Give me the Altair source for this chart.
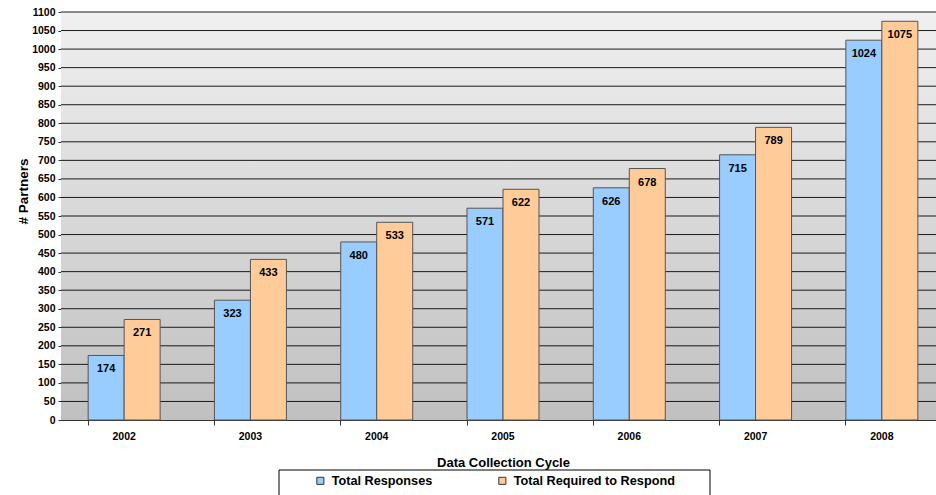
import altair as alt
import pandas as pd

years = ["2002", "2003", "2004", "2005", "2006", "2007", "2008"]
responses = [174, 323, 480, 571, 626, 715, 1024]
required = [271, 433, 533, 622, 678, 789, 1075]
series = ["Total Responses", "Total Required to Respond"]
colors = ["#99ccff", "#ffcc99"]
y_ticks = list(range(0, 1101, 50))

rows = []
for i, y in enumerate(years):
    rows.append({"Year": y, "Series": series[0], "Value": responses[i]})
    rows.append({"Year": y, "Series": series[1], "Value": required[i]})
df = pd.DataFrame(rows)
grid_df = pd.DataFrame({"Value": y_ticks[1:]})

W, H = 875, 408
XR = 884
FONT = "Liberation Sans"

yscale = alt.Scale(domain=[0, 1100], nice=False)
xscale = alt.Scale(paddingInner=0.43, paddingOuter=0.215, range=[0, XR])
yaxis = alt.Axis(title="# Partners", values=y_ticks, format="d",
                 tickSize=3, labelPadding=3, titlePadding=1, grid=False,
                 titleY=179, titleFontSize=13.5)

bg = alt.Chart(pd.DataFrame({"a": [0]})).mark_rect(
    fill=alt.Gradient(
        gradient="linear",
        stops=[alt.GradientStop(color="#f0f0f0", offset=0),
               alt.GradientStop(color="#c0c0c0", offset=1)],
        x1=0, x2=0, y1=0, y2=1,
    )
).encode(x=alt.value(0), x2=alt.value(W), y=alt.value(0), y2=alt.value(H))

legend_box = alt.Chart(pd.DataFrame({"a": [0]})).mark_rect(
    fill="#ffffff", stroke="#000000", strokeWidth=1
).encode(x=alt.value(218), x2=alt.value(649), y=alt.value(458), y2=alt.value(500))

grid = alt.Chart(grid_df).mark_rule(color="#1a1a1a", strokeWidth=1).encode(
    y=alt.Y("Value:Q", scale=yscale, axis=yaxis),
    x=alt.value(0), x2=alt.value(W),
)

xenc = alt.X("Year:N", sort=years, scale=xscale,
             axis=alt.Axis(title="Data Collection Cycle", labelAngle=0,
                           bandPosition=0, tickSize=5, labelPadding=6,
                           titlePadding=15))
yenc = alt.Y("Value:Q", scale=yscale, axis=yaxis)

bars = alt.Chart(df).mark_bar(stroke="#555555", strokeWidth=1).encode(
    x=xenc, y=yenc,
    xOffset=alt.XOffset("Series:N", sort=series),
    color=alt.Color("Series:N", sort=series,
                    scale=alt.Scale(domain=series, range=colors),
                    legend=alt.Legend(title=None, orient="none", direction="horizontal",
                                      legendX=253, legendY=462, padding=0,
                                      columnPadding=63, labelOffset=5, labelLimit=400,
                                      symbolType="square", symbolSize=50,
                                      symbolStrokeColor="#333333", symbolStrokeWidth=1,
                                      labelFont=FONT, labelFontSize=12.7,
                                      labelFontWeight="bold", labelColor="#000000")),
)

labels = alt.Chart(df).mark_text(baseline="top", dy=8, font=FONT, fontSize=11,
                                 fontWeight="bold", color="#000000").encode(
    x=xenc, y=yenc,
    xOffset=alt.XOffset("Series:N", sort=series),
    text="Value:Q",
)

chart = alt.layer(bg, legend_box, grid, bars, labels).properties(
    width=W, height=H,
    autosize=alt.AutoSizeParams(type="none"),
    padding={"left": 61, "top": 12, "right": 0, "bottom": 75},
).configure_view(stroke=None).configure_axis(
    labelFont=FONT, labelFontSize=10.5, labelFontWeight="bold", labelColor="#000000",
    titleFont=FONT, titleFontSize=13, titleFontWeight="bold", titleColor="#000000",
    domainColor="#333333", tickColor="#333333",
)

chart.save("out.html", embed_options={"renderer": "svg", "actions": False})
